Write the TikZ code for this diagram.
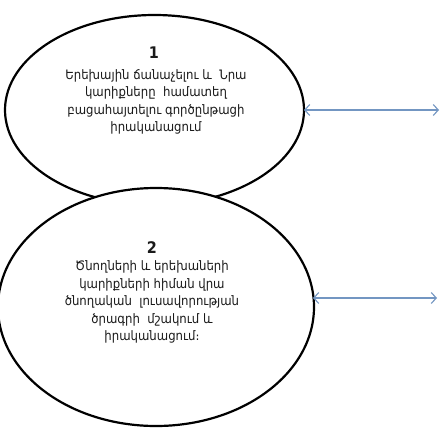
\documentclass[tikz,border=0pt]{standalone}
\usepackage{fontspec}
\setmainfont{DejaVu Sans Condensed}
\usetikzlibrary{shapes.geometric,arrows.meta}
\definecolor{arrowblue}{HTML}{7396C2}
\definecolor{txt}{HTML}{1A1A1A}
\begin{document}
\begin{tikzpicture}[x=1pt,y=-1pt,
  oval/.style={ellipse,draw=black,line width=2.2pt,fill=white,inner sep=0pt,outer sep=0pt},
  num/.style={text=txt,font=\bfseries\fontsize{16}{18}\selectfont,inner sep=0pt},
  body/.style={text=txt,align=center,font=\fontsize{13}{17.5}\selectfont,inner sep=0pt},
  arr/.style={draw=arrowblue,line width=1.1pt,{Straight Barb[length=5pt,width=11pt]}-{Straight Barb[length=5pt,width=11pt]}}]
\useasboundingbox[fill=white] (0,0) rectangle (440,431);
\node[oval,minimum width=299pt,minimum height=190pt] (e1) at (154.5,110) {};
\node[oval,minimum width=316pt,minimum height=238pt] (e2) at (156,307) {};
\node[num] (n1) at (154,53) {1};
\node[body] (t1) at (156,102) {Երեխային ճանաչելու և~~Նրա\\կարիքները~~համատեղ\\բացահայտելու գործընթացի\\իրականացում};
\node[num] (n2) at (152,248) {2};
\node[body] (t2) at (152,302) {Ծնողների և երեխաների\\կարիքների հիման վրա\\ծնողական~~լուսավորության\\ծրագրի~~մշակում և\\իրականացում։};
\coordinate (r1) at (439,110);
\coordinate (r2) at (437,298);
\draw[arr] (e1.east) -- (r1);
\draw[arr] (e2.east |- r2) ++(-1,0) coordinate (l2) -- (r2);
\end{tikzpicture}
\end{document}
